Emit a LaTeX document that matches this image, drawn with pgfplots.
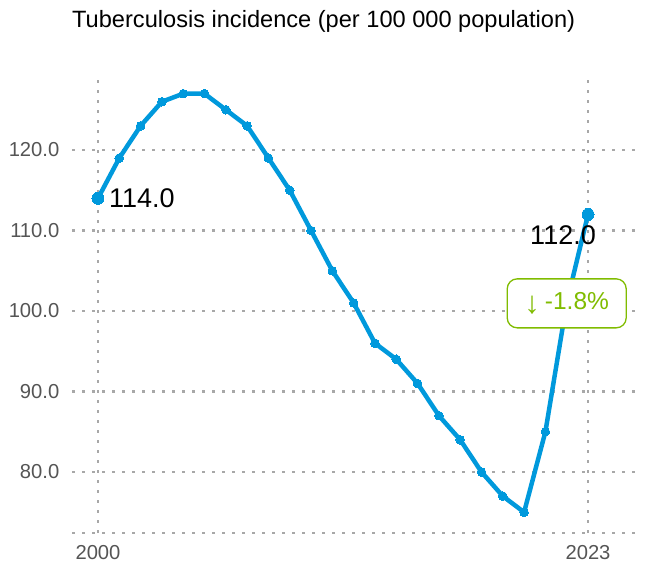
\documentclass[border=0pt]{standalone}
\usepackage{pgfplots}
\pgfplotsset{compat=1.18}
\usepackage{fontspec}
\setmainfont{Liberation Sans}
\definecolor{lineblue}{HTML}{0099DC}
\definecolor{boxgreen}{HTML}{80BC00}
\definecolor{gridgray}{HTML}{A8A8A8}
\definecolor{ticktext}{HTML}{555555}
\begin{document}
\begin{tikzpicture}
\path[use as bounding box] (-72bp,-32bp) rectangle (575bp,533bp);
\begin{axis}[
  scale only axis,
  width=568bp, height=458bp,
  xmin=1998.78, xmax=2025.44,
  ymin=72.42, ymax=129.32,
  clip=false,
  axis x line*=bottom, axis y line*=left,
  y axis line style={draw=none},
  x axis line style={-, draw=gridgray, line width=2.7bp, dash pattern=on 2.7bp off 7.3bp},
  major tick length=0pt,
  xtick={2000,2023}, xticklabels={2000,2023},
  ytick={80,90,100,110,120},
  xmajorgrids, ymajorgrids,
  major grid style={draw=gridgray, line width=2.7bp, dash pattern=on 2.7bp off 7.3bp},
  /pgf/number format/assume math mode=true,
  yticklabel={\pgfmathprintnumber[fixed,fixed zerofill,precision=1]{\tick}},
  ticklabel style={font=\fontsize{20.2bp}{22bp}\selectfont, text=ticktext},
  xticklabel style={anchor=north, inner sep=0pt, yshift=-12.5bp},
  yticklabel style={anchor=east, inner sep=0pt, xshift=-12.5bp},
]
\addplot[lineblue, line width=4.5bp, mark=*, mark size=4.3bp, mark options={fill=lineblue, draw=lineblue, line width=0pt}] coordinates {
(2000,114) (2001,119) (2002,123) (2003,126) (2004,127) (2005,127)
(2006,125) (2007,123) (2008,119) (2009,115) (2010,110) (2011,105)
(2012,101) (2013,96) (2014,94) (2015,91) (2016,87) (2017,84)
(2018,80) (2019,77) (2020,75) (2021,85) (2022,101) (2023,112)
};
\addplot[only marks, mark=*, mark size=6bp, mark options={fill=lineblue, draw=lineblue, line width=0pt}] coordinates {(2000,114) (2023,112)};
\node[anchor=west, inner sep=0pt, xshift=11bp, font=\fontsize{27bp}{30bp}\selectfont] at (axis cs:2000,114) {114.0};
\node[anchor=center, inner sep=0pt, xshift=-25bp, yshift=-20.5bp, font=\fontsize{27bp}{30bp}\selectfont] at (axis cs:2023,112) {112.0};
\coordinate (boxc) at (axis cs:2022,100.95);
\node[anchor=base west, inner sep=0pt, font=\fontsize{23.6bp}{26bp}\selectfont] at (rel axis cs:0,1) [yshift=47bp] {Tuberculosis incidence (per 100 000 population)};
\end{axis}
\node[draw=boxgreen, line width=1.3bp, fill=white, rounded corners=10bp, minimum width=119bp, minimum height=49bp, inner sep=0pt, text=boxgreen, font=\fontsize{24.5bp}{27bp}\selectfont] at (boxc) {\raisebox{-4bp}{\fontsize{31bp}{31bp}\selectfont ↓}\hspace{5bp}-1.8\%};
\end{tikzpicture}
\end{document}
